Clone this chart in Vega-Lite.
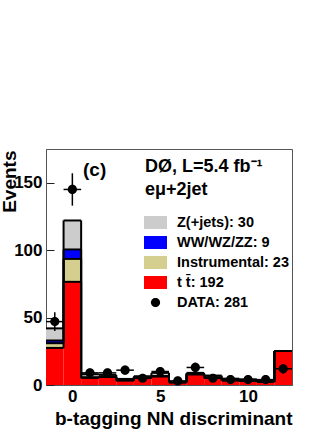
{
  "$schema": "https://vega.github.io/schema/vega-lite/v6.json",
  "width": 246,
  "height": 236,
  "autosize": "none",
  "padding": {"left": 46, "top": 149, "right": 40, "bottom": 45},
  "background": "white",
  "config": {
    "font": "Liberation Sans",
    "view": {"stroke": "#555", "strokeWidth": 1},
    "axis": {
      "labelFont": "Liberation Sans", "labelFontWeight": "bold", "labelFontSize": 17, "labelColor": "black",
      "titleFont": "Liberation Sans", "titleFontWeight": "bold", "titleFontSize": 19, "titleColor": "black",
      "domainColor": "#555", "tickColor": "#222", "tickWidth": 1, "grid": false,
      "labelOverlap": false, "labelBound": false, "labelFlush": false
    },
    "legend": {
      "orient": "none", "legendX": 99, "legendY": 9, "padding": 0,
      "titleFont": "Liberation Sans", "titleFontWeight": "bold", "titleFontSize": 18, "titleColor": "black",
      "titleLineHeight": 23, "titlePadding": 13, "titleLimit": 300,
      "labelFont": "Liberation Sans", "labelFontWeight": "bold", "labelFontSize": 14.5, "labelColor": "black",
      "labelLimit": 300, "labelOffset": 11, "rowPadding": 0,
      "symbolSize": 361, "symbolStrokeColor": "black", "symbolStrokeWidth": 1.5, "symbolOpacity": 1
    }
  },
  "title": {"text": "(c)", "anchor": "start", "frame": "group", "offset": -46, "dx": 37, "fontSize": 19, "fontWeight": "bold", "font": "Liberation Sans", "baseline": "alphabetic", "color": "black"},
  "resolve": {"scale": {"x": "shared", "y": "shared"}, "axis": {"x": "independent", "y": "independent"}},
  "datasets": {
    "mc": [
      {"b": -1, "lo": -1.5, "hi": -0.5, "comp": "t t\u0304: 192", "ord": 1, "v": 27.5},
      {"b": 0, "lo": -0.5, "hi": 0.5, "comp": "t t\u0304: 192", "ord": 1, "v": 76.5},
      {"b": 1, "lo": 0.5, "hi": 1.5, "comp": "t t\u0304: 192", "ord": 1, "v": 5.5},
      {"b": 2, "lo": 1.5, "hi": 2.5, "comp": "t t\u0304: 192", "ord": 1, "v": 6},
      {"b": 3, "lo": 2.5, "hi": 3.5, "comp": "t t\u0304: 192", "ord": 1, "v": 3.5},
      {"b": 4, "lo": 3.5, "hi": 4.5, "comp": "t t\u0304: 192", "ord": 1, "v": 5.5},
      {"b": 5, "lo": 4.5, "hi": 5.5, "comp": "t t\u0304: 192", "ord": 1, "v": 6.5},
      {"b": 6, "lo": 5.5, "hi": 6.5, "comp": "t t\u0304: 192", "ord": 1, "v": 2},
      {"b": 7, "lo": 6.5, "hi": 7.5, "comp": "t t\u0304: 192", "ord": 1, "v": 8},
      {"b": 8, "lo": 7.5, "hi": 8.5, "comp": "t t\u0304: 192", "ord": 1, "v": 5.5},
      {"b": 9, "lo": 8.5, "hi": 9.5, "comp": "t t\u0304: 192", "ord": 1, "v": 3.5},
      {"b": 10, "lo": 9.5, "hi": 10.5, "comp": "t t\u0304: 192", "ord": 1, "v": 3},
      {"b": 11, "lo": 10.5, "hi": 11.5, "comp": "t t\u0304: 192", "ord": 1, "v": 2.5},
      {"b": 12, "lo": 11.5, "hi": 12.5, "comp": "t t\u0304: 192", "ord": 1, "v": 25.2},
      {"b": -1, "lo": -1.5, "hi": -0.5, "comp": "Instrumental: 23", "ord": 2, "v": 3.5},
      {"b": 0, "lo": -0.5, "hi": 0.5, "comp": "Instrumental: 23", "ord": 2, "v": 17},
      {"b": 1, "lo": 0.5, "hi": 1.5, "comp": "Instrumental: 23", "ord": 2, "v": 0},
      {"b": 2, "lo": 1.5, "hi": 2.5, "comp": "Instrumental: 23", "ord": 2, "v": 0},
      {"b": 3, "lo": 2.5, "hi": 3.5, "comp": "Instrumental: 23", "ord": 2, "v": 0},
      {"b": 4, "lo": 3.5, "hi": 4.5, "comp": "Instrumental: 23", "ord": 2, "v": 0},
      {"b": 5, "lo": 4.5, "hi": 5.5, "comp": "Instrumental: 23", "ord": 2, "v": 0},
      {"b": 6, "lo": 5.5, "hi": 6.5, "comp": "Instrumental: 23", "ord": 2, "v": 0},
      {"b": 7, "lo": 6.5, "hi": 7.5, "comp": "Instrumental: 23", "ord": 2, "v": 0},
      {"b": 8, "lo": 7.5, "hi": 8.5, "comp": "Instrumental: 23", "ord": 2, "v": 0},
      {"b": 9, "lo": 8.5, "hi": 9.5, "comp": "Instrumental: 23", "ord": 2, "v": 0},
      {"b": 10, "lo": 9.5, "hi": 10.5, "comp": "Instrumental: 23", "ord": 2, "v": 0},
      {"b": 11, "lo": 10.5, "hi": 11.5, "comp": "Instrumental: 23", "ord": 2, "v": 0},
      {"b": 12, "lo": 11.5, "hi": 12.5, "comp": "Instrumental: 23", "ord": 2, "v": 0},
      {"b": -1, "lo": -1.5, "hi": -0.5, "comp": "WW/WZ/ZZ: 9", "ord": 3, "v": 2},
      {"b": 0, "lo": -0.5, "hi": 0.5, "comp": "WW/WZ/ZZ: 9", "ord": 3, "v": 7},
      {"b": 1, "lo": 0.5, "hi": 1.5, "comp": "WW/WZ/ZZ: 9", "ord": 3, "v": 0},
      {"b": 2, "lo": 1.5, "hi": 2.5, "comp": "WW/WZ/ZZ: 9", "ord": 3, "v": 0},
      {"b": 3, "lo": 2.5, "hi": 3.5, "comp": "WW/WZ/ZZ: 9", "ord": 3, "v": 0},
      {"b": 4, "lo": 3.5, "hi": 4.5, "comp": "WW/WZ/ZZ: 9", "ord": 3, "v": 0},
      {"b": 5, "lo": 4.5, "hi": 5.5, "comp": "WW/WZ/ZZ: 9", "ord": 3, "v": 0},
      {"b": 6, "lo": 5.5, "hi": 6.5, "comp": "WW/WZ/ZZ: 9", "ord": 3, "v": 0},
      {"b": 7, "lo": 6.5, "hi": 7.5, "comp": "WW/WZ/ZZ: 9", "ord": 3, "v": 0},
      {"b": 8, "lo": 7.5, "hi": 8.5, "comp": "WW/WZ/ZZ: 9", "ord": 3, "v": 0},
      {"b": 9, "lo": 8.5, "hi": 9.5, "comp": "WW/WZ/ZZ: 9", "ord": 3, "v": 0},
      {"b": 10, "lo": 9.5, "hi": 10.5, "comp": "WW/WZ/ZZ: 9", "ord": 3, "v": 0},
      {"b": 11, "lo": 10.5, "hi": 11.5, "comp": "WW/WZ/ZZ: 9", "ord": 3, "v": 0},
      {"b": 12, "lo": 11.5, "hi": 12.5, "comp": "WW/WZ/ZZ: 9", "ord": 3, "v": 0},
      {"b": -1, "lo": -1.5, "hi": -0.5, "comp": "Z(+jets): 30", "ord": 4, "v": 9},
      {"b": 0, "lo": -0.5, "hi": 0.5, "comp": "Z(+jets): 30", "ord": 4, "v": 21.5},
      {"b": 1, "lo": 0.5, "hi": 1.5, "comp": "Z(+jets): 30", "ord": 4, "v": 2.5},
      {"b": 2, "lo": 1.5, "hi": 2.5, "comp": "Z(+jets): 30", "ord": 4, "v": 1.5},
      {"b": 3, "lo": 2.5, "hi": 3.5, "comp": "Z(+jets): 30", "ord": 4, "v": 1},
      {"b": 4, "lo": 3.5, "hi": 4.5, "comp": "Z(+jets): 30", "ord": 4, "v": 1},
      {"b": 5, "lo": 4.5, "hi": 5.5, "comp": "Z(+jets): 30", "ord": 4, "v": 2.5},
      {"b": 6, "lo": 5.5, "hi": 6.5, "comp": "Z(+jets): 30", "ord": 4, "v": 0.5},
      {"b": 7, "lo": 6.5, "hi": 7.5, "comp": "Z(+jets): 30", "ord": 4, "v": 1},
      {"b": 8, "lo": 7.5, "hi": 8.5, "comp": "Z(+jets): 30", "ord": 4, "v": 1.5},
      {"b": 9, "lo": 8.5, "hi": 9.5, "comp": "Z(+jets): 30", "ord": 4, "v": 1.2},
      {"b": 10, "lo": 9.5, "hi": 10.5, "comp": "Z(+jets): 30", "ord": 4, "v": 1.2},
      {"b": 11, "lo": 10.5, "hi": 11.5, "comp": "Z(+jets): 30", "ord": 4, "v": 1},
      {"b": 12, "lo": 11.5, "hi": 12.5, "comp": "Z(+jets): 30", "ord": 4, "v": 0}
    ],
    "obs": [
      {"b": -1, "lo": -1.5, "hi": -0.5, "n": 47, "elo": 40.1, "ehi": 53.9, "comp": "DATA: 281"},
      {"b": 0, "lo": -0.5, "hi": 0.5, "n": 145, "elo": 133, "ehi": 157, "comp": "DATA: 281"},
      {"b": 1, "lo": 0.5, "hi": 1.5, "n": 9, "elo": 6, "ehi": 12, "comp": "DATA: 281"},
      {"b": 2, "lo": 1.5, "hi": 2.5, "n": 9, "elo": 6, "ehi": 12, "comp": "DATA: 281"},
      {"b": 3, "lo": 2.5, "hi": 3.5, "n": 11, "elo": 7.7, "ehi": 14.3, "comp": "DATA: 281"},
      {"b": 4, "lo": 3.5, "hi": 4.5, "n": 5, "elo": 2.8, "ehi": 7.2, "comp": "DATA: 281"},
      {"b": 5, "lo": 4.5, "hi": 5.5, "n": 10, "elo": 6.8, "ehi": 13.2, "comp": "DATA: 281"},
      {"b": 6, "lo": 5.5, "hi": 6.5, "n": 3, "elo": 1.3, "ehi": 4.7, "comp": "DATA: 281"},
      {"b": 7, "lo": 6.5, "hi": 7.5, "n": 13, "elo": 9.4, "ehi": 16.6, "comp": "DATA: 281"},
      {"b": 8, "lo": 7.5, "hi": 8.5, "n": 5, "elo": 2.8, "ehi": 7.2, "comp": "DATA: 281"},
      {"b": 9, "lo": 8.5, "hi": 9.5, "n": 4, "elo": 2, "ehi": 6, "comp": "DATA: 281"},
      {"b": 10, "lo": 9.5, "hi": 10.5, "n": 4, "elo": 2, "ehi": 6, "comp": "DATA: 281"},
      {"b": 11, "lo": 10.5, "hi": 11.5, "n": 4, "elo": 2, "ehi": 6, "comp": "DATA: 281"},
      {"b": 12, "lo": 11.5, "hi": 12.5, "n": 12, "elo": 8.5, "ehi": 15.5, "comp": "DATA: 281"}
    ]
  },
  "layer": [
    {
      "data": {"name": "mc"},
      "transform": [
        {"stack": "v", "groupby": ["b"], "sort": [{"field": "ord", "order": "ascending"}], "as": ["y0", "y1"]}
      ],
      "layer": [
        {
          "mark": {"type": "bar", "strokeWidth": 0},
          "encoding": {
            "x": {"field": "lo", "type": "quantitative", "scale": {"domain": [-1.5, 12.5], "nice": false, "zero": false},
              "axis": {
                "orient": "bottom",
                "values": [0, 5, 10],
                "tickSize": -8,
                "labelPadding": 11,
                "title": "b-tagging NN discriminant", "titleAlign": "right", "titleAnchor": null,
                "titleX": 246, "titleY": 39, "titleBaseline": "alphabetic"
              }},
            "x2": {"field": "hi"},
            "y": {"field": "y0", "type": "quantitative", "scale": {"domain": [0, 175], "nice": false},
              "axis": {
                "orient": "left",
                "values": [0, 50, 100, 150],
                "tickSize": -8,
                "labelPadding": 12,
                "title": "Events", "titleAngle": -90, "titleAlign": "right", "titleAnchor": null,
                "titleX": -31, "titleY": 1, "titleBaseline": "alphabetic"
              }},
            "y2": {"field": "y1"},
            "color": {"field": "comp", "type": "nominal",
              "scale": {"domain": ["Z(+jets): 30", "WW/WZ/ZZ: 9", "Instrumental: 23", "t t\u0304: 192", "DATA: 281"],
                        "range": ["#cccccc", "#0000ff", "#d4cf8e", "#ff0000", "#000000"]},
              "legend": {"title": ["D\u00d8, L=5.4 fb\u207b\u00b9", "e\u03bc+2jet"], "rowPadding": 0}}
          }
        },
        {
          "mark": {"type": "rule", "color": "black", "strokeWidth": 2},
          "encoding": {
            "x": {"field": "lo", "type": "quantitative"},
            "x2": {"field": "hi"},
            "y": {"field": "y1", "type": "quantitative"}
          }
        },
        {
          "transform": [
            {"window": [{"op": "lag", "field": "y1", "as": "prev"}], "groupby": ["comp"], "sort": [{"field": "b", "order": "ascending"}]}
          ],
          "mark": {"type": "rule", "color": "black", "strokeWidth": 2},
          "encoding": {
            "x": {"field": "lo", "type": "quantitative"},
            "y": {"field": "prev", "type": "quantitative"},
            "y2": {"field": "y1"}
          }
        }
      ]
    },
    {
      "data": {"name": "obs"},
      "layer": [
        {
          "mark": {"type": "rule", "color": "black", "strokeWidth": 1.5},
          "encoding": {
            "x": {"field": "b", "type": "quantitative", "axis": null},
            "y": {"field": "elo", "type": "quantitative", "axis": null},
            "y2": {"field": "ehi"}
          }
        },
        {
          "mark": {"type": "rule", "color": "black", "strokeWidth": 1.5},
          "encoding": {
            "x": {"field": "lo", "type": "quantitative", "axis": null},
            "x2": {"field": "hi"},
            "y": {"field": "n", "type": "quantitative", "axis": null}
          }
        },
        {
          "mark": {"type": "point", "filled": true, "opacity": 1, "size": 361},
          "encoding": {
            "x": {"field": "b", "type": "quantitative",
              "axis": {"orient": "bottom", "values": [-1, 1, 2, 3, 4, 6, 7, 8, 9, 11, 12], "tickSize": -4, "labels": false, "domain": false, "title": null}},
            "y": {"field": "n", "type": "quantitative",
              "axis": {"orient": "left", "values": [10, 20, 30, 40, 60, 70, 80, 90, 110, 120, 130, 140, 160, 170], "tickSize": -4, "labels": false, "domain": false, "title": null}},
            "color": {"field": "comp", "type": "nominal"},
            "shape": {"field": "comp", "type": "nominal",
              "scale": {"domain": ["Z(+jets): 30", "WW/WZ/ZZ: 9", "Instrumental: 23", "t t\u0304: 192", "DATA: 281"],
                        "range": ["M-1.21,-0.684H1.21V0.684H-1.21Z", "M-1.21,-0.684H1.21V0.684H-1.21Z", "M-1.21,-0.684H1.21V0.684H-1.21Z", "M-1.21,-0.684H1.21V0.684H-1.21Z", "M0.484,0A0.484,0.484,0,1,1,-0.484,0A0.484,0.484,0,1,1,0.484,0Z"]},
              "legend": {"title": ["D\u00d8, L=5.4 fb\u207b\u00b9", "e\u03bc+2jet"], "rowPadding": 0}}
          }
        }
      ]
    }
  ]
}
